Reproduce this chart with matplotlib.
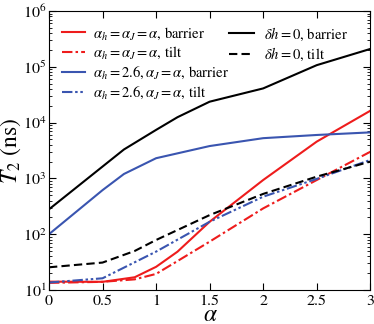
import matplotlib
matplotlib.use("Agg")
import matplotlib.pyplot as plt

plt.rcParams["font.family"] = ["STIXGeneral", "DejaVu Serif"]
plt.rcParams["mathtext.fontset"] = "stix"

# alpha grid per series and T2 values (ns)
x_red = [0, 0.5, 0.8, 1.0, 1.2, 1.5, 2.0, 2.5, 3.0]
red_barrier = [14.1, 14.0, 16.9, 26, 48.6, 167, 935, 4560, 16300]
red_tilt = [13.4, 14.0, 15.5, 19.4, 33, 73.5, 290, 935, 3000]

x_blue = [0, 0.5, 0.7, 1.0, 1.5, 2.0, 2.5, 3.0]
blue_barrier = [100, 616, 1200, 2300, 3800, 5260, 6000, 6680]
x_blue_tilt = [0, 0.5, 1.0, 1.5, 2.0, 2.5, 3.0]
blue_tilt = [13.6, 16.2, 48.7, 167, 470, 980, 2140]

x_black = [0, 0.5, 0.7, 1.0, 1.2, 1.5, 2.0, 2.5, 3.0]
black_barrier = [279, 1630, 3300, 7400, 12500, 23700, 41000, 107000, 209000]
x_black_tilt = [0, 0.5, 0.8, 1.0, 1.5, 2.0, 2.5, 3.0]
black_tilt = [25.5, 31, 50, 78.7, 220, 527, 1075, 2000]

RED, BLUE = "#ee1c1c", "#3a55b0"

fig = plt.figure(figsize=(3.74, 3.24), dpi=100)
ax = fig.add_axes([0.131, 0.105, 0.859, 0.861])

l1, = ax.plot(x_red, red_barrier, color=RED, lw=1.5)
l2, = ax.plot(x_red, red_tilt, color=RED, lw=1.5, ls=(0, (5, 1.5, 1.2, 1.5)))
l3, = ax.plot(x_blue, blue_barrier, color=BLUE, lw=1.5)
l4, = ax.plot(x_blue_tilt, blue_tilt, color=BLUE, lw=1.5,
              ls=(0, (5, 1.3, 1.2, 1.3, 1.2, 1.3)))
l5, = ax.plot(x_black, black_barrier, color="black", lw=1.5)
l6, = ax.plot(x_black_tilt, black_tilt, color="black", lw=1.5, ls=(0, (4, 2)))

ax.set_yscale("log")
ax.set_xlim(0, 3)
ax.set_ylim(10, 1e6)
ax.set_xticks([0, 0.5, 1, 1.5, 2, 2.5, 3])
ax.set_xticklabels(["0", "0.5", "1", "1.5", "2", "2.5", "3"])
ax.tick_params(which="both", direction="in", top=True, right=True, labelsize=11.5)
ax.tick_params(which="major", length=5)
ax.tick_params(which="minor", length=2.5)
ax.tick_params(axis="y", pad=2)
ax.set_xlabel("α", fontsize=17, style="italic", va="baseline")
ax.xaxis.set_label_coords(0.5, -0.11)
ax.set_ylabel(r"$T_2$ (ns)", fontsize=17)
ax.yaxis.set_label_coords(-0.08, 0.5)

leg1 = ax.legend([l1, l2, l3, l4],
                 [r"$\alpha_h=\alpha_J=\alpha$, barrier", r"$\alpha_h=\alpha_J=\alpha$, tilt",
                  r"$\alpha_h=2.6, \alpha_J=\alpha$, barrier", r"$\alpha_h=2.6, \alpha_J=\alpha$, tilt"],
                 loc="upper left", bbox_to_anchor=(0.009, 0.985), frameon=False, fontsize=10.5,
                 handlelength=1.6, handletextpad=0.55, labelspacing=0.25, borderaxespad=0.3)
ax.add_artist(leg1)
ax.legend([l5, l6], [r"$\delta h=0$, barrier", r"$\delta h=0$, tilt"],
          loc="upper left", bbox_to_anchor=(0.53, 0.985), frameon=False, fontsize=10.5,
          handlelength=1.7, handletextpad=0.7, labelspacing=0.25, borderaxespad=0.3)

fig.savefig("out.png", dpi=100)
